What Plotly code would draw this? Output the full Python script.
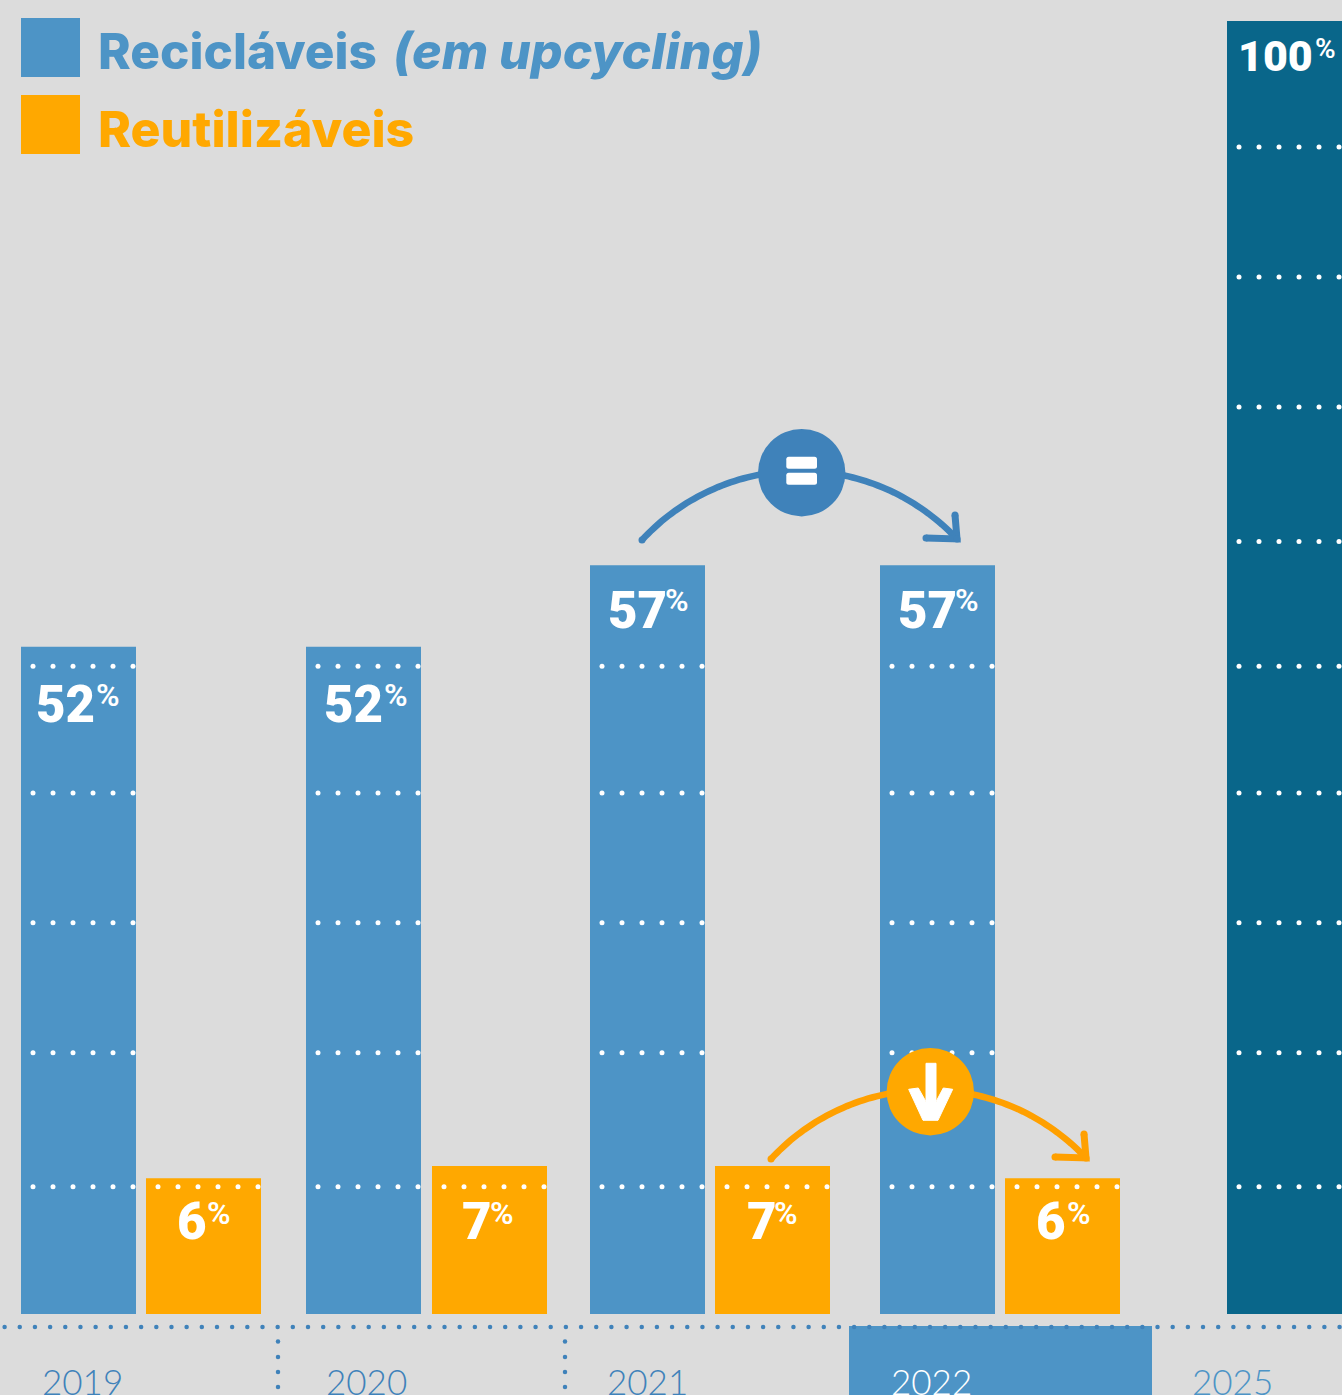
import numpy as np
import plotly.graph_objects as go

# ---------- data ----------
years = ["2019", "2020", "2021", "2022", "2025"]
reciclaveis_labels = [52, 52, 57, 57]
reutilizaveis_labels = [6, 7, 7, 6]
meta_label = [100]
reciclaveis_heights = [51.6, 51.6, 57.9, 57.9]
reutilizaveis_heights = [10.5, 11.45, 11.45, 10.5]
meta_height = [100]
grid_levels = [9.85, 20.2, 30.25, 40.3, 50.1, 59.75, 70.15, 80.2, 90.25]

# ---------- layout constants (pixels) ----------
W, H = 1342, 1395
Y0, Y100 = 1314, 21
PX = (Y0 - Y100) / 100
BAR_W = 115
blue_left = [21, 306, 590, 880]
orange_left = [146, 432, 715, 1005]
teal_left = [1227]
BG, BLUE, ORANGE, TEAL = "#dcdcdc", "#4d94c6", "#ffa800", "#09668a"
DBLUE, DORANGE = "#3f82ba", "#ffa000"
NUM_FONT = "Roboto"
HEAD_FONT = "Inter"
YEAR_FONT = "Lato"

def centers(lefts):
    return [l + BAR_W / 2 for l in lefts]

fig = go.Figure()
for lefts, vals, col in [(blue_left, reciclaveis_heights, BLUE),
                         (orange_left, reutilizaveis_heights, ORANGE),
                         (teal_left, meta_height, TEAL)]:
    fig.add_bar(x=centers(lefts), y=vals, width=[BAR_W] * len(vals),
                marker=dict(color=col, line_width=0), showlegend=False, hoverinfo="skip")

# white dotted grid, only inside bars
dx, dy = [], []
for lefts, vals in [(blue_left, reciclaveis_heights), (orange_left, reutilizaveis_heights), (teal_left, meta_height)]:
    for l, v in zip(lefts, vals):
        for g in grid_levels:
            if g < v:
                for k in range(6):
                    dx.append(l + 12 + 20 * k)
                    dy.append(g)
fig.add_scatter(x=dx, y=dy, mode="markers", marker=dict(color="white", size=5, line_width=0),
                showlegend=False, hoverinfo="skip")

# timeline dots
tx = list(np.arange(4.6, W + 5, 15.17))
ty = [1327] * len(tx)
for vx in (278, 565):
    for vy in (1341.5, 1357, 1372, 1387):
        tx.append(vx); ty.append(vy)
fig.add_scatter(x=tx, y=ty, yaxis="y2", mode="markers",
                marker=dict(color=DBLUE, size=4.5, line_width=0), showlegend=False, hoverinfo="skip")

shapes = []
def rect(x0, y0, x1, y1, col, layer="below"):
    shapes.append(dict(type="rect", xref="x", yref="y2", x0=x0, x1=x1, y0=y0, y1=y1,
                       fillcolor=col, line_width=0, layer=layer))
def circle(cx, cy, r, col):
    shapes.append(dict(type="circle", xref="x", yref="y2", x0=cx - r, x1=cx + r, y0=cy - r, y1=cy + r,
                       fillcolor=col, line_width=0, layer="above"))
def path(d, col, width=0, fill=None):
    shapes.append(dict(type="path", xref="x", yref="y2", path=d, layer="above",
                       line=dict(color=col, width=width), fillcolor=fill or "rgba(0,0,0,0)"))

rect(21, 18, 80, 77, BLUE)
rect(21, 95, 80, 154, ORANGE)
rect(849, 1326, 1152, H + 5, BLUE)

def rrect(x0, y0, x1, y1, r):
    return (f"M{x0+r} {y0} L{x1-r} {y0} Q{x1} {y0} {x1} {y0+r} L{x1} {y1-r} Q{x1} {y1} {x1-r} {y1} "
            f"L{x0+r} {y1} Q{x0} {y1} {x0} {y1-r} L{x0} {y0+r} Q{x0} {y0} {x0+r} {y0} Z")

def arc_arrow(ox, oy, col):
    p1, p2, p3 = (642, 540), (758, 475), (955, 537)
    a = np.array([[2*(p2[0]-p1[0]), 2*(p2[1]-p1[1])], [2*(p3[0]-p1[0]), 2*(p3[1]-p1[1])]], float)
    b = np.array([p2[0]**2+p2[1]**2-p1[0]**2-p1[1]**2, p3[0]**2+p3[1]**2-p1[0]**2-p1[1]**2], float)
    c = np.linalg.solve(a, b)
    r = np.hypot(p1[0]-c[0], p1[1]-c[1])
    t0 = np.arctan2(p1[1]-c[1], p1[0]-c[0])
    t1 = np.arctan2(p3[1]-c[1], p3[0]-c[0])
    if t0 > 0: t0 -= 2*np.pi
    if t1 > 0: t1 -= 2*np.pi
    ts = np.linspace(t0, t1, 80)
    pts = [(c[0]+r*np.cos(t)+ox, c[1]+r*np.sin(t)+oy) for t in ts]
    path("M" + " L".join(f"{x:.1f} {y:.1f}" for x, y in pts), col, 6.5)
    path(f"M{926+ox} {538+oy} L{957+ox} {539+oy} L{955+ox} {515+oy}", col, 7)
    for x, y in [(642, 540), (926, 538), (955, 515), (957, 539)]:
        circle(x+ox, y+oy, 3.5, col)

arc_arrow(0, 0, DBLUE)
arc_arrow(129, 619, DORANGE)
circle(801.7, 472.7, 43.7, DBLUE)
circle(930.3, 1091.7, 43.7, ORANGE)
path(rrect(786.3, 456.7, 817, 468.7, 2.5), "white", 0, "white")
path(rrect(786.3, 472.7, 817, 484.7, 2.5), "white", 0, "white")
arrow = [(678,100),(708,100),(708,215),(730,174),(758,178),(714,271),(669,271),(626,178),(655,174),(678,215)]
path("M" + " L".join(f"{700+a/3:.1f} {1030+b/3:.1f}" for a, b in arrow) + " Z", "white", 1, "white")

# ---------- text ----------
ann = []
def text(x, y, s, size, col, weight=700, anchor="left", family=NUM_FONT, style="normal"):
    ann.append(dict(x=x, y=y, xref="x", yref="y2", text=s, showarrow=False, xanchor=anchor, yanchor="middle",
                    font=dict(family=family, size=size, color=col, weight=weight, style=style),
                    borderpad=0, borderwidth=0))

text(97.5, 51, "Recicláveis", 49.5, BLUE, 800, family=HEAD_FONT)
text(393, 51, "(em upcycling)", 50, BLUE, 800, style="italic", family=HEAD_FONT)
text(97.5, 129, "Reutilizáveis", 50, ORANGE, 800, family=HEAD_FONT)

num_x = [36, 324, 608, 898]
pct_x = [96, 384, 665, 955]
num_y = [704, 704, 610, 610]
pct_y = [695, 695, 600, 600]
for i, v in enumerate(reciclaveis_labels):
    text(num_x[i], num_y[i], str(v), 51, "white", 900)
    text(pct_x[i], pct_y[i], "%", 32, "white", 600)
onum_x = [177, 462, 747, 1036]
opct_x = [207, 490, 774, 1067]
for i, v in enumerate(reutilizaveis_labels):
    text(onum_x[i], 1221, str(v), 51, "white", 900)
    text(opct_x[i], 1213, "%", 32, "white", 600)
text(1237.5, 56, str(meta_label[0]), 43, "white", 900)
text(1315, 48, "%", 28, "white", 600)

year_c = [82, 366, 647, 931, 1232]
year_col = [DBLUE, DBLUE, DBLUE, "white", BLUE]
for y, c, col in zip(years, year_c, year_col):
    text(c, 1381, y, 35, col, 300, anchor="center", family=YEAR_FONT)

fig.update_layout(
    width=W, height=H, margin=dict(l=0, r=0, t=0, b=0), paper_bgcolor=BG, plot_bgcolor=BG,
    barmode="overlay", showlegend=False, shapes=shapes, annotations=ann,
    xaxis=dict(range=[0, W], visible=False, fixedrange=True),
    yaxis=dict(range=[(Y0 - H) / PX, Y0 / PX], visible=False, fixedrange=True),
    yaxis2=dict(range=[H, 0], overlaying="y", visible=False, fixedrange=True),
)
fig.write_html("out.html", config=dict(displayModeBar=False),
               post_script="document.body.style.margin='0';document.documentElement.style.overflow='hidden';"
                           "document.body.style.background='#dcdcdc';")
